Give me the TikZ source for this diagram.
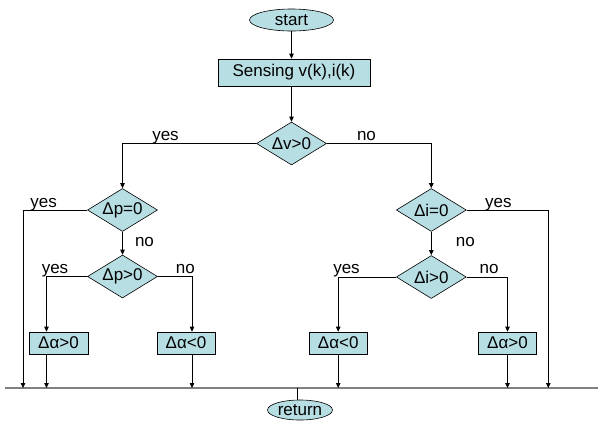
\documentclass[tikz,border=0pt]{standalone}
\usepackage{fontspec}
\setmainfont{Liberation Sans}
\usetikzlibrary{shapes.geometric,arrows.meta}
\definecolor{boxfill}{RGB}{183,222,227}
\definecolor{busgray}{RGB}{128,128,128}
\begin{document}
\begin{tikzpicture}[x=1pt,y=-1pt,
  font=\fontsize{17}{20}\selectfont,
  every node/.style={inner sep=0pt},
  term/.style={ellipse,draw,fill=boxfill,line width=0.6pt},
  proc/.style={rectangle,draw,fill=boxfill,line width=0.6pt,minimum height=22pt},
  dec/.style={diamond,draw,fill=boxfill,line width=0.6pt,minimum width=70pt,minimum height=43pt,shape aspect=1.6},
  link/.style={line width=0.8pt},
  arr/.style={link,-{Triangle[length=5pt,width=4.5pt]}},
  bus/.style={line width=1.8pt,busgray},
  lbl/.style={anchor=base}]
\useasboundingbox (0,0) rectangle (598,421);
% nodes
\node[term,minimum width=84pt,minimum height=22pt] (start) at (291.5,20) {start};
\node[proc,minimum width=152pt,minimum height=27pt] (sense) at (294,72.5) {Sensing v(k),i(k)};
\node[dec] (dv) at (291.5,143.5) {Δv>0};
\node[dec] (dp0) at (122.5,210) {Δp=0};
\node[dec] (dpg) at (122.5,276.5) {Δp>0};
\node[dec] (di0) at (431.3,210) {Δi=0};
\node[dec] (dig) at (431.3,277) {Δi>0};
\node[proc,minimum width=59pt] (a1) at (58.5,343) {Δα>0};
\node[proc,minimum width=58pt] (a2) at (186,343) {Δα<0};
\node[proc,minimum width=58.6pt] (a3) at (338.2,343) {Δα<0};
\node[proc,minimum width=58.4pt] (a4) at (507.5,343) {Δα>0};
\node[term,minimum width=65pt,minimum height=20pt] (ret) at (300,410) {return};
% coordinates
\coordinate (busL) at (5,388);
\coordinate (busR) at (598,388);
\coordinate (xl) at (23,0);
\coordinate (x1) at (46.5,0);
\coordinate (x2) at (192,0);
\coordinate (xr) at (548.3,0);
\coordinate (xret) at (297.5,0);
% bus
\draw[bus] (busL) -- (busR);
% connectors
\draw[arr] (start.south -| sense.north -| start.south) -- (start.south |- sense.north);
\draw[arr] (dv.north |- sense.south) -- (dv.north);
\draw[arr] (dv.west) -| (dp0.north);
\draw[arr] (dv.east) -| (di0.north);
\draw[arr] (dp0.west) -| (xl |- busL);
\draw[arr] (dp0.south) -- (dpg.north);
\draw[arr] (dpg.west) -| (x1 |- a1.north);
\draw[arr] (x1 |- a1.south) -- (x1 |- busL);
\draw[arr] (dpg.east) -| (x2 |- a2.north);
\draw[arr] (x2 |- a2.south) -- (x2 |- busL);
\draw[arr] (di0.east) -| (xr |- busL);
\draw[arr] (di0.south) -- (dig.north);
\draw[arr] (dig.west) -| (a3.north);
\draw[arr] (a3.south) -- (a3.south |- busL);
\draw[arr] (dig.east) -| (a4.north);
\draw[arr] (a4.south) -- (a4.south |- busL);
\draw[link] (xret |- busL) -- (xret |- ret.north);
% labels
\node[lbl] (l1) at (165.5,140) {yes};
\node[lbl] (l2) at (366.5,140) {no};
\node[lbl] (l3) at (43.7,207) {yes};
\node[lbl] (l4) at (498.3,207) {yes};
\node[lbl] (l5) at (144.5,246) {no};
\node[lbl] (l6) at (465.3,246) {no};
\node[lbl] (l7) at (55,273.5) {yes};
\node[lbl] (l8) at (185.4,273.5) {no};
\node[lbl] (l9) at (346.5,273.5) {yes};
\node[lbl] (l10) at (489,273.5) {no};
\end{tikzpicture}
\end{document}
